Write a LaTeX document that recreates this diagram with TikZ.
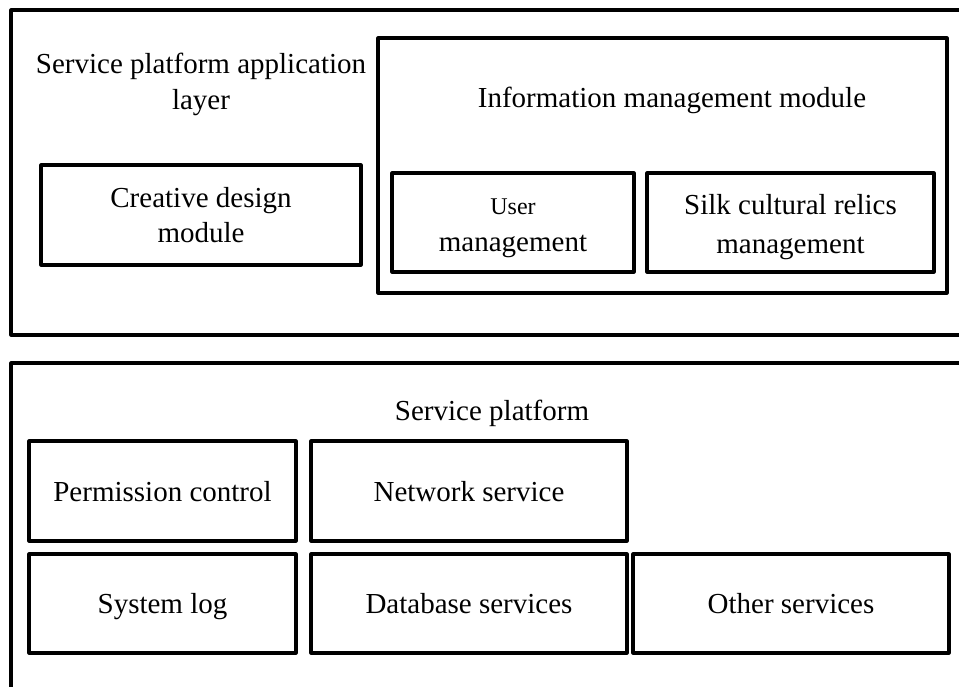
\documentclass[tikz,border=0pt]{standalone}
\usepackage{fontspec}
\setmainfont{Liberation Serif}
\begin{document}
\begin{tikzpicture}[x=1pt,y=-1pt,
  frame/.style={draw=black,line width=3.1pt,line join=round},
  box/.style={frame,rectangle,inner sep=0pt,align=center,
    font=\fontsize{29}{35}\selectfont},
  oneline/.style={box,text height=20.5pt,text depth=0pt},
  label/.style={inner sep=0pt,align=center,font=\fontsize{29}{36}\selectfont}]
\useasboundingbox (0,0) rectangle (959,686);
% outer layers, running off the right and bottom edges
\begin{scope}
  \clip (0,0) rectangle (959,686);
  \draw[frame] (11,10) rectangle (990,335);
  \draw[frame] (11,363) rectangle (990,720);
\end{scope}

% application layer
\node[label] (applabel) at (201,84) {Service platform application\\layer};
\node[box,minimum width=320pt,minimum height=100pt] (creative) at (201,215)
  {Creative design\\module};
\node[box,minimum width=569pt,minimum height=255pt] (info) at (662.5,165.5) {};
\node[label] (infolabel) at (672,100) {Information management module};
\node[box,minimum width=242pt,minimum height=99pt,
  font=\fontsize{29}{37}\selectfont] (user) at (513,222.5)
  {\rule{0pt}{28pt}{\fontsize{24}{30}\selectfont User}\\management};
\node[box,minimum width=287pt,minimum height=99pt,
  font=\fontsize{29}{39}\selectfont] (silk) at (790.5,222.5)
  {\rule{0pt}{30pt}Silk cultural relics\\management};

% service platform
\node[label] (platlabel) at (492,413) {Service platform};
\node[oneline,minimum width=267pt,minimum height=100pt] (perm) at (162.5,491)
  {Permission control};
\node[oneline,minimum width=316pt,minimum height=100pt] (net) at (469,491)
  {Network service};
\node[oneline,minimum width=267pt,minimum height=99pt] (syslog) at (162.5,603.5)
  {System log};
\node[oneline,minimum width=316pt,minimum height=99pt] (db) at (469,603.5)
  {Database services};
\node[oneline,minimum width=316pt,minimum height=99pt] (other) at (791,603.5)
  {Other services};
\end{tikzpicture}
\end{document}
